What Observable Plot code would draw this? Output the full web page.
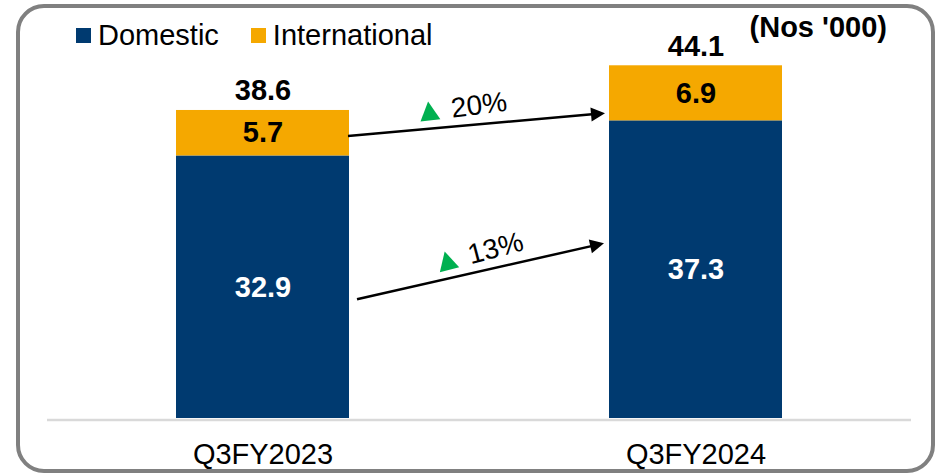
<!DOCTYPE html>
<html>
<head>
<meta charset="utf-8">
<script src="https://cdn.jsdelivr.net/npm/d3@7"></script>
<script src="https://cdn.jsdelivr.net/npm/@observablehq/plot@0.6"></script>
<style>
  html, body { margin: 0; padding: 0; background: #fff; }
  #wrap { position: relative; width: 940px; height: 474px; overflow: hidden;
          font-family: "Liberation Sans", Arial, sans-serif; color: #000; }
  #frame { position: absolute; left: 16px; top: 4px; width: 919px; height: 469px;
           box-sizing: border-box; border: 4px solid #808080; border-radius: 28px; }
  #chart { position: absolute; left: 0; top: 0; }
  #legend { position: absolute; left: 76px; top: 21px; display: flex; align-items: center;
            font-size: 29px; line-height: 28px; }
  #legend .item { display: flex; align-items: center; margin-right: 32px; }
  #legend .sw { width: 15px; height: 15px; margin-right: 7px; }
  #unit { position: absolute; right: 53px; top: 13px; font-size: 29px; line-height: 29px;
          font-weight: bold; white-space: pre; }
</style>
</head>
<body>
<div id="wrap">
  <div id="frame"></div>
  <div id="chart"></div>
  <div id="legend"></div>
  <div id="unit"></div>
</div>
<script>
// ---- data ----
const periods = ["Q3FY2023", "Q3FY2024"];
const domestic = [32.9, 37.3];
const international = [5.7, 6.9];
const totals = [38.6, 44.1];
const seriesNames = ["Domestic", "International"];
const seriesColors = ["#003a70", "#f5a800"];
const growthLabels = ["20%", "13%"];
const growthFrom = [34.4, 12.2];   // arrow level at first bar's centre
const growthTo = [39.2, 24.5];     // arrow level at second bar's centre
const unitLabel = "(Nos '000)";

// ---- tables ----
const rows = periods.flatMap((p, i) => [
  {period: p, series: seriesNames[0], value: domestic[i]},
  {period: p, series: seriesNames[1], value: international[i]}
]);
const totalRows = periods.map((p, i) => ({period: p, total: totals[i]}));
const growthRows = growthLabels.map((l, i) => ({label: l, from: growthFrom[i], to: growthTo[i]}));

// ---- legend & unit ----
const legend = document.getElementById("legend");
seriesNames.forEach((s, i) => {
  const item = document.createElement("div");
  item.className = "item";
  const sw = document.createElement("div");
  sw.className = "sw";
  sw.style.background = seriesColors[i];
  const t = document.createElement("span");
  t.textContent = s;
  item.append(sw, t);
  legend.append(item);
});
document.getElementById("unit").textContent = unitLabel;

// ---- growth arrow renderer ----
function growthArrow(data, {gapStart, gapEnd, labelAt}) {
  return function (index, scales, values) {
    const xs = scales.x;
    const half = xs && xs.bandwidth ? xs.bandwidth() / 2 : 0;
    const g = d3.create("svg:g");
    for (const i of index) {
      const cx1 = values.x1[i] + half, cx2 = values.x2[i] + half;
      const cy1 = values.y1[i], cy2 = values.y2[i];
      const slope = (cy2 - cy1) / (cx2 - cx1);
      const ax = cx1 + half + gapStart, ay = cy1 + slope * (ax - cx1);
      const bx = cx2 - half - gapEnd, by = cy1 + slope * (bx - cx1);
      const L = Math.hypot(bx - ax, by - ay);
      const ux = (bx - ax) / L, uy = (by - ay) / L;
      const headL = 14, headW = 14;
      const hx = bx - ux * headL, hy = by - uy * headL;
      g.append("line")
        .attr("x1", ax).attr("y1", ay).attr("x2", hx + ux).attr("y2", hy + uy)
        .attr("stroke", "#000").attr("stroke-width", 2.5);
      g.append("path")
        .attr("d", `M${bx},${by}L${hx - uy * headW / 2},${hy + ux * headW / 2}L${hx + uy * headW / 2},${hy - ux * headW / 2}Z`)
        .attr("fill", "#000");
      // label
      const px = ax + ux * L * labelAt, py = ay + uy * L * labelAt;
      const angle = Math.atan2(uy, ux) * 180 / Math.PI - 2;
      const lg = g.append("g").attr("transform", `translate(${px},${py}) rotate(${angle})`);
      lg.append("path")
        .attr("d", "M-22,-28L-12,-9L-32,-9Z")
        .attr("fill", "#00b050");
      lg.append("text")
        .attr("x", 0).attr("y", -9)
        .attr("text-anchor", "start")
        .attr("font-size", 28)
        .attr("font-family", "Liberation Sans, Arial, sans-serif")
        .attr("fill", "#000")
        .text(data[i].label);
    }
    return g.node();
  };
}

const chart = Plot.plot({
  width: 940,
  height: 474,
  marginTop: 19,
  marginBottom: 56,
  marginLeft: 47,
  marginRight: 29,
  style: {fontFamily: "Liberation Sans, Arial, sans-serif", background: "transparent", overflow: "visible", color: "#000"},
  x: {domain: periods, range: [89.3, 869.6], paddingInner: 0.6, paddingOuter: 0.2, axis: null},
  y: {domain: [0, 50], axis: null},
  color: {domain: seriesNames, range: seriesColors},
  marks: [
    Plot.barY(rows, {x: "period", y: "value", fill: "series"}),
    Plot.ruleY([0], {stroke: "#d9d9d9", strokeWidth: 2.5, dy: 1.5}),
    Plot.axisX({tickSize: 0, tickPadding: 25, fontSize: 29, label: null}),
    Plot.text(rows, Plot.stackY({
      x: "period", y: "value",
      text: d => d.series === seriesNames[1] ? d.value.toFixed(1) : null,
      fill: "#000", fontWeight: "bold", fontSize: 29
    })),
    Plot.text(rows, Plot.stackY({
      x: "period", y: "value",
      text: d => d.series === seriesNames[0] ? d.value.toFixed(1) : null,
      fill: "#fff", fontWeight: "bold", fontSize: 29
    })),
    Plot.text(totalRows, {
      x: "period", y: "total", text: d => d.total.toFixed(1),
      dy: -20, fill: "#000", fontWeight: "bold", fontSize: 29
    }),
    Plot.arrow([growthRows[0]], {
      x1: () => periods[0], x2: () => periods[1], y1: "from", y2: "to",
      stroke: "#000", strokeWidth: 2.5, headLength: 12,
      render: growthArrow([growthRows[0]], {gapStart: -1, gapEnd: 4, labelAt: 0.41})
    }),
    Plot.arrow([growthRows[1]], {
      x1: () => periods[0], x2: () => periods[1], y1: "from", y2: "to",
      stroke: "#000", strokeWidth: 2.5, headLength: 12,
      render: growthArrow([growthRows[1]], {gapStart: 8, gapEnd: 5, labelAt: 0.47})
    })
  ]
});
document.getElementById("chart").append(chart);
</script>
</body>
</html>
